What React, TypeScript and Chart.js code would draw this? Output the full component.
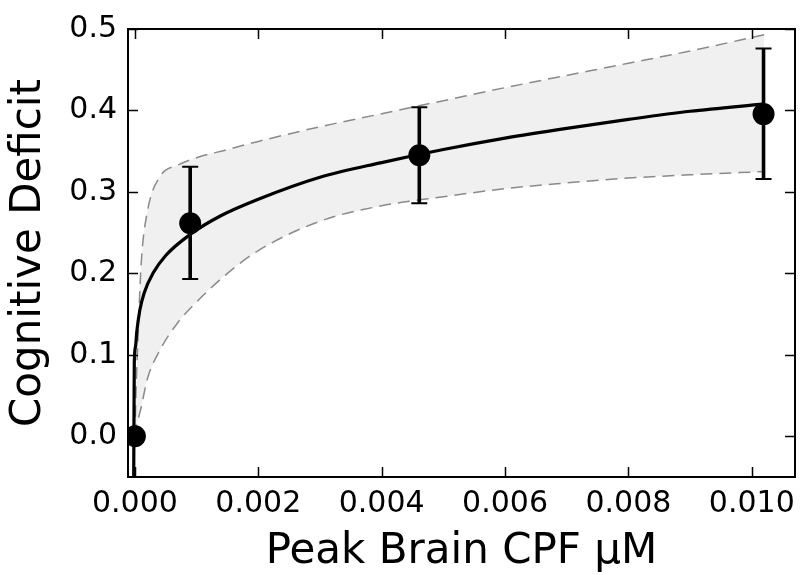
import React, { useEffect, useRef } from "react";
import { Chart, registerables } from "chart.js";

Chart.register(...registerables);

// Observed data points with error bars
const pointX = [0.0, 0.000896, 0.00461, 0.01019];
const pointY = [0.0, 0.2615, 0.345, 0.3955];
const errLow = [0.0, 0.193, 0.286, 0.316];
const errHigh = [0.0, 0.331, 0.404, 0.476];

// Fitted curve
const curveX = [-0.00002, -0.00001, 0.00001, 0.00003, 0.00008, 0.00015, 0.0003, 0.0005, 0.0009, 0.0014, 0.002, 0.003, 0.004, 0.005, 0.006, 0.007, 0.008, 0.009, 0.0102];
const curveY = [-0.06, 0.09, 0.11, 0.128, 0.155, 0.176, 0.201, 0.222, 0.248, 0.271, 0.291, 0.318, 0.336, 0.352, 0.366, 0.378, 0.389, 0.399, 0.408];

// Confidence band
const bandX = [0.0, 0.00002, 0.00005, 0.0001, 0.0002, 0.0004, 0.0007, 0.001, 0.0015, 0.002, 0.003, 0.004, 0.005, 0.006, 0.007, 0.008, 0.009, 0.0102];
const bandUpper = [0.0, 0.06, 0.12, 0.21, 0.275, 0.318, 0.333, 0.342, 0.352, 0.362, 0.38, 0.396, 0.412, 0.428, 0.443, 0.458, 0.473, 0.493];
const bandLower = [0.0, 0.01, 0.02, 0.035, 0.07, 0.105, 0.14, 0.165, 0.2, 0.228, 0.264, 0.283, 0.294, 0.304, 0.311, 0.317, 0.321, 0.325];

// Axes
const xTicks = [0.0, 0.002, 0.004, 0.006, 0.008, 0.01];
const yTicks = [0.0, 0.1, 0.2, 0.3, 0.4, 0.5];
const xMin = -0.000112;
const xMax = 0.0107;
const yMin = -0.05;
const yMax = 0.5;
const xTitle = "Peak Brain CPF \u03bcM";
const yTitle = "Cognitive Deficit";

const FONT = "'DejaVu Sans', sans-serif";

const zip = (xs: number[], ys: number[]) => xs.map((x, i) => ({ x, y: ys[i] }));

const errorBarPlugin = {
  id: "errorBars",
  beforeDatasetDraw(chart: any, args: any) {
    if (args.index !== 0) return;
    const { ctx, scales } = chart;
    const xs = scales.x;
    const ys = scales.y;
    ctx.save();
    ctx.strokeStyle = "#000";
    for (let i = 0; i < pointX.length; i++) {
      if (errHigh[i] === errLow[i]) continue;
      const px = xs.getPixelForValue(pointX[i]);
      const pLo = ys.getPixelForValue(errLow[i]);
      const pHi = ys.getPixelForValue(errHigh[i]);
      ctx.lineWidth = 3.6;
      ctx.beginPath();
      ctx.moveTo(px, pLo);
      ctx.lineTo(px, pHi);
      ctx.stroke();
      ctx.lineWidth = 2;
      ctx.beginPath();
      ctx.moveTo(px - 8, pLo);
      ctx.lineTo(px + 8, pLo);
      ctx.moveTo(px - 8, pHi);
      ctx.lineTo(px + 8, pHi);
      ctx.stroke();
    }
    ctx.restore();
  },
};

const framePlugin = {
  id: "frame",
  afterDraw(chart: any) {
    const { ctx, chartArea, scales } = chart;
    const { left, right, top, bottom } = chartArea;
    ctx.save();
    ctx.strokeStyle = "#000";
    ctx.lineWidth = 1.5;
    ctx.beginPath();
    xTicks.forEach((v) => {
      const px = Math.round(scales.x.getPixelForValue(v)) + 0.5;
      ctx.moveTo(px, bottom);
      ctx.lineTo(px, bottom - 10);
      ctx.moveTo(px, top);
      ctx.lineTo(px, top + 10);
    });
    yTicks.forEach((v) => {
      const py = Math.round(scales.y.getPixelForValue(v)) + 0.5;
      ctx.moveTo(left, py);
      ctx.lineTo(left + 10, py);
      ctx.moveTo(right, py);
      ctx.lineTo(right - 10, py);
    });
    ctx.stroke();
    ctx.lineWidth = 2;
    ctx.strokeRect(left, top, right - left, bottom - top);
    ctx.restore();
  },
};

export default function App() {
  const ref = useRef<HTMLCanvasElement | null>(null);
  useEffect(() => {
    if (!ref.current) return;
    const chart = new Chart(ref.current, {
      type: "scatter",
      data: {
        datasets: [
          {
            label: "data",
            data: zip(pointX, pointY),
            pointRadius: 11,
            pointBackgroundColor: "#000",
            pointBorderWidth: 0,
            showLine: false,
            clip: 0,
          } as any,
          {
            label: "fit",
            data: zip(curveX, curveY),
            showLine: true,
            borderColor: "#000",
            borderWidth: 3.2,
            pointRadius: 0,
            cubicInterpolationMode: "monotone",
            clip: 0,
          } as any,
          {
            label: "upper",
            data: zip(bandX, bandUpper),
            showLine: true,
            borderColor: "#8a8a8a",
            borderWidth: 1.5,
            borderDash: [12, 7],
            pointRadius: 0,
            cubicInterpolationMode: "monotone",
            fill: "+1",
            backgroundColor: "#f0f0f0",
            clip: 0,
          } as any,
          {
            label: "lower",
            data: zip(bandX, bandLower),
            showLine: true,
            borderColor: "#8a8a8a",
            borderWidth: 1.5,
            borderDash: [12, 7],
            pointRadius: 0,
            cubicInterpolationMode: "monotone",
            fill: false,
            clip: 0,
          } as any,
        ],
      },
      options: {
        animation: false,
        responsive: false,
        devicePixelRatio: 1,
        layout: { padding: { top: 22, right: 2, left: 0, bottom: 0 } },
        plugins: {
          legend: { display: false },
          tooltip: { enabled: false },
          filler: { drawTime: "beforeDatasetsDraw" },
        } as any,
        scales: {
          x: {
            type: "linear",
            min: xMin,
            max: xMax,
            grid: { display: false, drawTicks: false },
            border: { display: false },
            afterBuildTicks: (s: any) => {
              s.ticks = xTicks.map((v) => ({ value: v }));
            },
            afterFit: (s: any) => {
              s.height = 98;
            },
            ticks: {
              color: "#000",
              font: { family: FONT, size: 30 },
              padding: 9,
              maxRotation: 0,
              autoSkip: false,
              callback: (v: any) => Number(v).toFixed(3),
            },
            title: {
              display: true,
              text: xTitle,
              color: "#000",
              font: { family: FONT, size: 42, lineHeight: 1.1 },
              padding: { top: 0, bottom: 0 },
            },
          },
          y: {
            type: "linear",
            min: yMin,
            max: yMax,
            grid: { display: false, drawTicks: false },
            border: { display: false },
            afterBuildTicks: (s: any) => {
              s.ticks = yTicks.map((v) => ({ value: v }));
            },
            afterFit: (s: any) => {
              s.width = 128;
            },
            ticks: {
              color: "#000",
              font: { family: FONT, size: 30 },
              padding: 11,
              autoSkip: false,
              callback: (v: any) => Number(v).toFixed(1),
            },
            title: {
              display: true,
              text: yTitle,
              color: "#000",
              font: { family: FONT, size: 42, lineHeight: 1.2 },
              padding: { top: 4, bottom: 0 },
            },
          },
        },
      },
      plugins: [errorBarPlugin, framePlugin],
    } as any);
    return () => chart.destroy();
  }, []);
  return (
    <div style={{ position: "absolute", left: 0, top: 0, width: 806, height: 575 }}>
      <canvas ref={ref} width={806} height={575} style={{ display: "block" }} />
    </div>
  );
}
